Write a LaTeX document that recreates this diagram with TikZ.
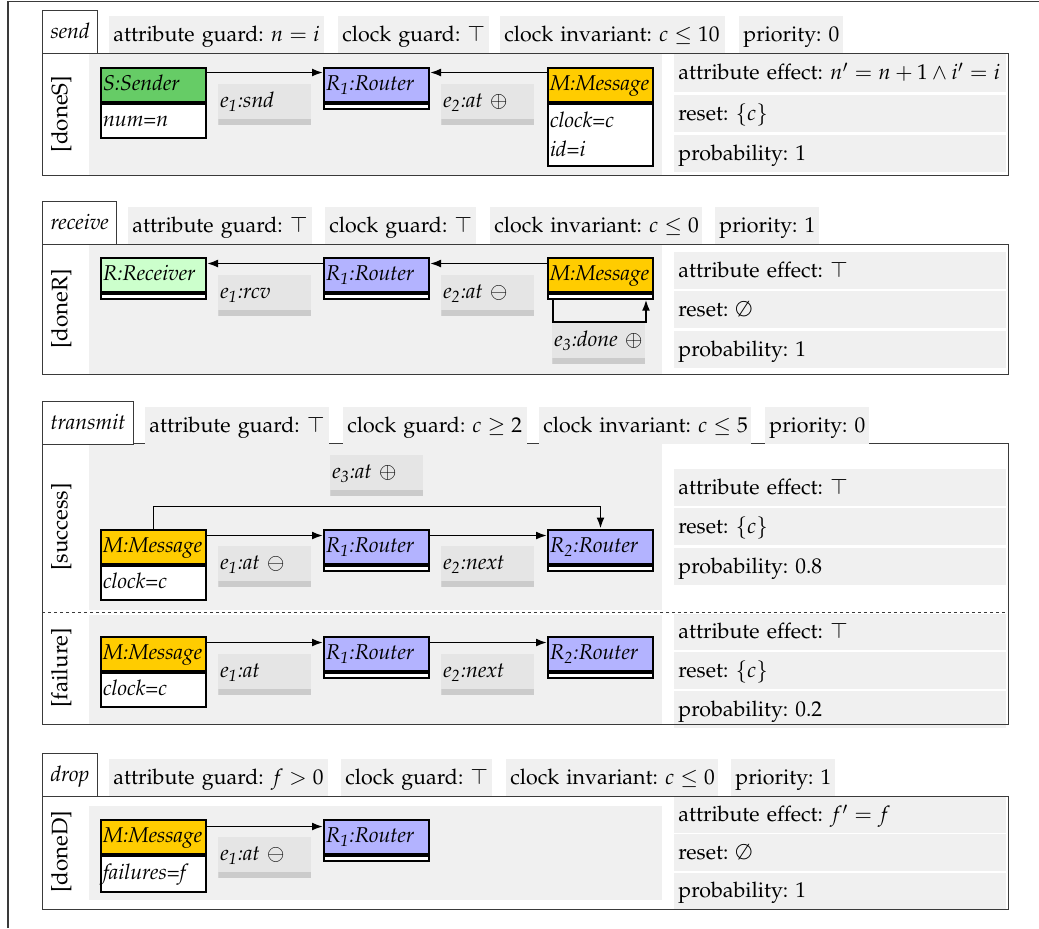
\documentclass[tikz,border=0pt]{standalone}
\usepackage[T1]{fontenc}
\usepackage{mathpazo}
\usetikzlibrary{arrows.meta}

\definecolor{boxgray}{HTML}{F0F0F0}
\definecolor{lblgray}{HTML}{E5E5E5}
\definecolor{lblbar}{HTML}{CBCBCB}
\definecolor{linegray}{HTML}{3A3A3A}
\definecolor{sendgreen}{HTML}{66CC66}
\definecolor{recvgreen}{HTML}{CCFFCC}
\definecolor{routerblue}{HTML}{B3B3FF}
\definecolor{msgorange}{HTML}{FFCC00}

\tikzset{
  txtbase/.style={font=\fontsize{10.7}{14.3}\selectfont\frenchspacing, text height=7.5pt, text depth=1.1pt, inner ysep=0pt},
  itbase/.style={txtbase, font=\fontsize{10.7}{14.3}\selectfont\frenchspacing\itshape},
  % keep a label on one line, flush left inside a fixed width
  oneline/.style={text width=#1, execute at begin node={\hbox\bgroup}, execute at end node={\egroup}},
  tabbox/.style={itbase, draw=linegray, line width=0.5pt, fill=white, anchor=north west, inner xsep=4pt, minimum height=21.5pt},
  guard/.style={txtbase, fill=boxgray, anchor=north west, inner xsep=2pt, minimum height=18.5pt, oneline=#1},
  prop/.style={txtbase, fill=boxgray, anchor=north west, inner xsep=2pt, minimum height=#1, oneline=162pt},
  sidelbl/.style={txtbase, font=\fontsize{11.2}{14.3}\selectfont, rotate=90},
  hdr/.style={itbase, draw=black, line width=1pt, fill=#1, anchor=north west, inner xsep=1pt, minimum height=17pt, oneline=50.5pt},
  attrs/.style={itbase, draw=black, line width=1pt, fill=white, anchor=north west, inner xsep=1pt, minimum height=#1, oneline=50.5pt},
  attrs2/.style={itbase, draw=black, line width=1pt, fill=white, anchor=north west, inner xsep=1pt, minimum height=#1, text width=50.5pt, text height={}, text depth={}, align=left},
  strip/.style={draw=black, line width=1pt, fill=white, anchor=north west, inner sep=0pt, minimum width=52.5pt, minimum height=2.6pt},
  elabel/.style={itbase, text depth=5pt, fill=lblgray, anchor=north west, inner xsep=1pt, minimum height=20.5pt, oneline=44.5pt,
    path picture={\fill[lblbar] (path picture bounding box.south west) rectangle ([yshift=3pt]path picture bounding box.south east);}},
  conn/.style={line width=0.9pt, -{Latex[length=5.5pt,width=4pt]}},
  area/.style={fill=boxgray},
  frameline/.style={draw=linegray, line width=0.5pt},
}

\begin{document}
\begin{tikzpicture}[x=0.5pt,y=-0.5pt]
\useasboundingbox (0,0) rectangle (1039,928);

% enclosing frame
\draw[linegray, line width=0.7pt] (8,928) -- (8,1.3) -- (1039,1.3);

% ---------------- send ----------------
\fill[area] (89,53) rectangle (662,175);
\node[prop=19pt] (P1a) at (674,54) {attribute effect: $n' = n + 1 \wedge i' = i$};
\node[prop=18.5pt] (P1b) at (674,95) {reset: $\{c\}$};
\node[prop=18.5pt] (P1c) at (674,135) {probability: 1};
\draw[frameline] (42,53) rectangle (1008,175);
\node[tabbox] (T1) at (42,10) {send};
\node[guard=103.5pt] (G1a) at (109,16) {attribute guard: $n = i$};
\node[guard=71.5pt] (G1b) at (338,16) {clock guard: $\top$};
\node[guard=108.5pt] (G1c) at (500,16) {clock invariant: $c \leq 10$};
\node[guard=48pt] (G1d) at (739,16) {priority: 0};
\node[sidelbl] (S1) at (61,114) {[doneS]};

\node[hdr=sendgreen] (Snd) at (100,66.5) {S:Sender};
\node[attrs=17pt] (Sndb) at (Snd.south west) {num=n};
\node[hdr=routerblue] (R11) at (323,66.5) {R\textsubscript{1}:Router};
\node[strip] (R11s) at (R11.south west) {};
\node[hdr=msgorange] (M1) at (547,66.5) {M:Message};
\node[attrs2=31pt] (M1b) at (M1.south west) {clock=c\\id=i};
\draw[conn] ([yshift=-3pt]Snd.north east) -- ([yshift=-3pt]R11.north west);
\draw[conn] ([yshift=-3pt]M1.north west) -- ([yshift=-3pt]R11.north east);
\node[elabel] (E1a) at (218,84) {e\textsubscript{1}:snd};
\node[elabel] (E1b) at (441,84) {e\textsubscript{2}:at $\oplus$};

% ---------------- receive ----------------
\fill[area] (89,244) rectangle (662,374);
\node[prop=18.5pt] (P2a) at (674,252) {attribute effect: $\top$};
\node[prop=18.5pt] (P2b) at (674,291) {reset: $\emptyset$};
\node[prop=18.5pt] (P2c) at (674,331) {probability: 1};
\draw[frameline] (42,244) rectangle (1008,374);
\node[tabbox] (T2) at (42,201) {receive};
\node[guard=88pt] (G2a) at (128,207) {attribute guard: $\top$};
\node[guard=71.5pt] (G2b) at (325,207) {clock guard: $\top$};
\node[guard=102pt] (G2c) at (490,207) {clock invariant: $c \leq 0$};
\node[guard=48pt] (G2d) at (715,207) {priority: 1};
\node[sidelbl] (S2) at (61,309) {[doneR]};

\node[hdr=recvgreen] (Rcv) at (100,256.5) {R:Receiver};
\node[strip] (Rcvs) at (Rcv.south west) {};
\node[hdr=routerblue] (R12) at (323,256.5) {R\textsubscript{1}:Router};
\node[strip] (R12s) at (R12.south west) {};
\node[hdr=msgorange] (M2) at (547,256.5) {M:Message};
\node[strip] (M2s) at (M2.south west) {};
\draw[conn] ([yshift=-3.5pt]R12.north west) -- ([yshift=-3.5pt]Rcv.north east);
\draw[conn] ([yshift=-3.5pt]M2.north west) -- ([yshift=-3.5pt]R12.north east);
\draw[conn] ([xshift=3pt]M2s.south west) -- ++(0,22) -| ([xshift=-4pt]M2s.south east);
\node[elabel] (E2a) at (218,275) {e\textsubscript{1}:rcv};
\node[elabel] (E2b) at (441,275) {e\textsubscript{2}:at $\ominus$};
\node[elabel] (E2c) at (552,323) {e\textsubscript{3}:done $\oplus$};

% ---------------- transmit ----------------
\fill[area] (89,443) rectangle (662,610);
\fill[area] (89,615) rectangle (662,724);
\node[prop=18.5pt] (P3a) at (674,469) {attribute effect: $\top$};
\node[prop=18.5pt] (P3b) at (674,508) {reset: $\{c\}$};
\node[prop=18.5pt] (P3c) at (674,548) {probability: 0.8};
\node[prop=18pt] (P4a) at (674,614) {attribute effect: $\top$};
\node[prop=18.5pt] (P4b) at (674,652) {reset: $\{c\}$};
\node[prop=18.5pt] (P4c) at (674,691) {probability: 0.2};
\draw[frameline] (42,443) rectangle (1008,724);
\draw[frameline, dash pattern=on 1.7pt off 1.3pt] (42,612) -- (1008,612);
\node[tabbox] (T3) at (42,401) {transmit};
\node[guard=88pt] (G3a) at (145,407) {attribute guard: $\top$};
\node[guard=88pt] (G3b) at (343,407) {clock guard: $c \geq 2$};
\node[guard=102pt] (G3c) at (539,407) {clock invariant: $c \leq 5$};
\node[guard=48pt] (G3d) at (765,407) {priority: 0};
\node[sidelbl] (S3) at (61,527) {[success]};
\node[sidelbl] (S4) at (61,668) {[failure]};

\node[hdr=msgorange] (M3) at (100,528.5) {M:Message};
\node[attrs=17pt] (M3b) at (M3.south west) {clock=c};
\node[hdr=routerblue] (R13) at (323,528.5) {R\textsubscript{1}:Router};
\node[strip] (R13s) at (R13.south west) {};
\node[hdr=routerblue] (R23) at (547,528.5) {R\textsubscript{2}:Router};
\node[strip] (R23s) at (R23.south west) {};
\draw[conn] ([yshift=-3.5pt]M3.north east) -- ([yshift=-3.5pt]R13.north west);
\draw[conn] ([yshift=-3.5pt]R13.north east) -- ([yshift=-3.5pt]R23.north west);
\draw[conn] (M3.north) -- ++(0,-22) -| (R23.north);
\node[elabel] (E3a) at (218,546) {e\textsubscript{1}:at $\ominus$};
\node[elabel] (E3b) at (441,546) {e\textsubscript{2}:next};
\node[elabel] (E3c) at (330,455) {e\textsubscript{3}:at $\oplus$};

\node[hdr=msgorange] (M4) at (100,635.5) {M:Message};
\node[attrs=17pt] (M4b) at (M4.south west) {clock=c};
\node[hdr=routerblue] (R14) at (323,635.5) {R\textsubscript{1}:Router};
\node[strip] (R14s) at (R14.south west) {};
\node[hdr=routerblue] (R24) at (547,635.5) {R\textsubscript{2}:Router};
\node[strip] (R24s) at (R24.south west) {};
\draw[conn] ([yshift=-3.5pt]M4.north east) -- ([yshift=-3.5pt]R14.north west);
\draw[conn] ([yshift=-3.5pt]R14.north east) -- ([yshift=-3.5pt]R24.north west);
\node[elabel] (E4a) at (218,654) {e\textsubscript{1}:at};
\node[elabel] (E4b) at (441,654) {e\textsubscript{2}:next};

% ---------------- drop ----------------
\fill[area] (89,806) rectangle (662,900);
\node[prop=18pt] (P5a) at (674,797) {attribute effect: $f' = f$};
\node[prop=18.5pt] (P5b) at (674,834) {reset: $\emptyset$};
\node[prop=18pt] (P5c) at (674,873) {probability: 1};
\draw[frameline] (42,796) rectangle (1008,909);
\node[tabbox] (T5) at (42,753) {drop};
\node[guard=105.5pt] (G5a) at (109,759) {attribute guard: $f > 0$};
\node[guard=71.5pt] (G5b) at (341,759) {clock guard: $\top$};
\node[guard=102pt] (G5c) at (506,759) {clock invariant: $c \leq 0$};
\node[guard=48pt] (G5d) at (731,759) {priority: 1};
\node[sidelbl] (S5) at (61,852) {[doneD]};

\node[hdr=msgorange] (M5) at (100,818.5) {M:Message};
\node[attrs=18pt] (M5b) at (M5.south west) {failures=f};
\node[hdr=routerblue] (R15) at (323,818.5) {R\textsubscript{1}:Router};
\node[strip] (R15s) at (R15.south west) {};
\draw[conn] ([yshift=-4pt]M5.north east) -- ([yshift=-4pt]R15.north west);
\node[elabel] (E5a) at (218,837) {e\textsubscript{1}:at $\ominus$};
\end{tikzpicture}
\end{document}
